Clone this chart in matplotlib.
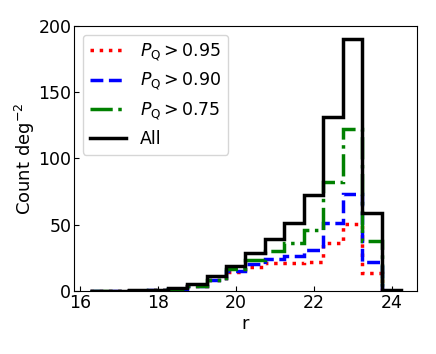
import numpy as np
import matplotlib
matplotlib.use("Agg")
import matplotlib.pyplot as plt

# bin edges in r magnitude
edges = np.arange(16.25, 24.26, 0.5)

# counts per square degree
count_all = [0.3, 0.3, 0.5, 1, 2, 5, 11, 19, 29, 39.5, 51.5, 72.5, 131, 190, 59, 1]
count_075 = [0.2, 0.2, 0.3, 0.5, 1.5, 4, 8.5, 16.5, 23.5, 30, 36, 46, 82.5, 122, 38, 0]
count_090 = [0.2, 0.2, 0.3, 0.5, 1.5, 4, 8.5, 15, 20.5, 24, 26.5, 31, 51.5, 73.5, 22, 0]
count_095 = [0.2, 0.2, 0.3, 0.5, 1.5, 4, 8.5, 14, 18, 21, 21, 22, 36, 50.5, 13.5, 0]

labels = [r"$P_{\rm Q} > 0.95$", r"$P_{\rm Q} > 0.90$", r"$P_{\rm Q} > 0.75$", "All"]

plt.rcParams['font.size'] = 13

fig = plt.figure(figsize=(4.36, 3.54), dpi=100)
ax = fig.add_axes([0.17, 0.178, 0.786, 0.749])

ax.stairs(count_095, edges, color='red', ls=':', lw=2.5, label=labels[0])
ax.stairs(count_090, edges, color='blue', ls='--', lw=2.5, label=labels[1])
ax.stairs(count_075, edges, color='green', ls='-.', lw=2.5, label=labels[2])
ax.stairs(count_all, edges, color='black', ls='-', lw=2.5, label=labels[3])

ax.set_xlim(15.85, 24.65)
ax.set_ylim(0, 200)
ax.set_xticks([16, 18, 20, 22, 24])
ax.set_yticks([0, 50, 100, 150, 200])
ax.tick_params(direction='in', labelsize=12.5, pad=2)
ax.set_xlabel("r", labelpad=2)
ax.set_ylabel(r"Count deg$^{-2}$", labelpad=1)
ax.legend(loc='upper left', fontsize=12.5, handlelength=2.1, labelspacing=0.45)

fig.savefig("out.png", dpi=100)
